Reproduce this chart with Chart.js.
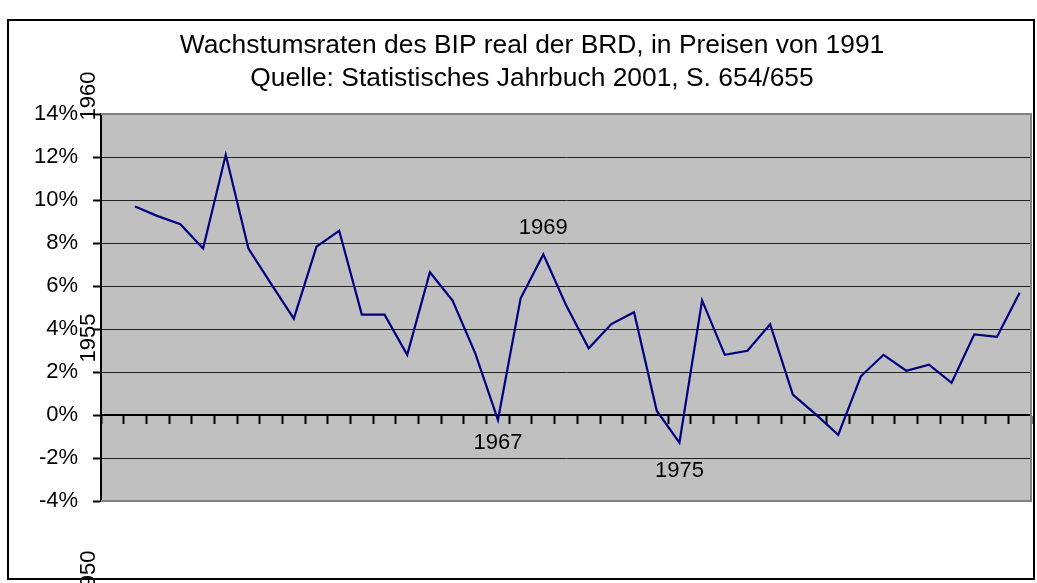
<!DOCTYPE html>
<html><head><meta charset="utf-8">
<script src="https://cdn.jsdelivr.net/npm/chart.js@4.4.1/dist/chart.umd.min.js"></script>
<style>html,body{margin:0;padding:0;background:#fff;}#wrap{width:1037px;height:583px;position:relative;}</style>
</head><body><div id="wrap"><canvas id="c" width="1037" height="583"></canvas></div>
<script>
const years = ['1950','1951','1952','1953','1954','1955','1956','1957','1958','1959','1960','1961','1962','1963','1964','1965','1966','1967','1968','1969','1970','1971','1972','1973','1974','1975','1976','1977','1978','1979','1980','1981','1982','1983','1984','1985','1986','1987','1988','1989','1990'];
const growth = [null, 9.7, 9.25, 8.87, 7.74, 12.1, 7.74, 6.1, 4.48, 7.83, 8.57, 4.67, 4.67, 2.80, 6.64, 5.32, 2.87, -0.23, 5.43, 7.47, 5.12, 3.10, 4.23, 4.78, 0.20, -1.29, 5.33, 2.80, 2.99, 4.22, 0.95, 0.04, -0.92, 1.80, 2.80, 2.06, 2.34, 1.50, 3.75, 3.64, 5.69];
const yMin = -4, yMax = 14, yStep = 2;
const titleLines = ['Wachstumsraten des BIP real der BRD, in Preisen von 1991', 'Quelle: Statistisches Jahrbuch 2001, S. 654/655'];
const markedYears = ['1969', '1967', '1975'];
const sideYears = ['1950', '1955', '1960'];

const FONT = "'Liberation Sans', Arial, sans-serif";

const decor = {
  id: 'decor',
  beforeDraw(chart) {
    const {ctx, chartArea: a} = chart;
    ctx.save();
    ctx.fillStyle = '#fff';
    ctx.fillRect(0, 0, chart.width, chart.height);
    ctx.fillStyle = '#C0C0C0';
    ctx.fillRect(a.left, a.top, a.right - a.left, a.bottom - a.top);
    ctx.restore();
  },
  beforeDatasetsDraw(chart) {
    const {ctx, chartArea: a} = chart;
    ctx.save();
    ctx.strokeStyle = '#808080';
    ctx.lineWidth = 2;
    ctx.beginPath();
    ctx.moveTo(a.left, a.top); ctx.lineTo(a.right, a.top); ctx.lineTo(a.right, a.bottom); ctx.lineTo(a.left, a.bottom);
    ctx.stroke();
    ctx.restore();
  },
  afterDraw(chart) {
    const {ctx} = chart;
    const xs = chart.scales.x, ys = chart.scales.y;
    ctx.save();
    ctx.strokeStyle = '#000';
    ctx.lineWidth = 2;
    ctx.strokeRect(8, 20, 1026, 559);
    ctx.fillStyle = '#000';
    ctx.textAlign = 'center';
    ctx.textBaseline = 'middle';
    ctx.font = '26.4px ' + FONT;
    ctx.fillText(titleLines[0], 532, 46);
    ctx.fillText(titleLines[1], 532, 79);
    ctx.font = '22px ' + FONT;
    const offs = {'1969': -26, '1967': 23, '1975': 28};
    markedYears.forEach(y => {
      const i = years.indexOf(y);
      const px = xs.getPixelForValue(i);
      const py = ys.getPixelForValue(growth[i]);
      ctx.fillText(y, px, py + offs[y]);
    });
    const sidePos = {'1950': 575, '1955': 338, '1960': 96};
    sideYears.forEach(y => {
      ctx.save();
      ctx.translate(89, sidePos[y]);
      ctx.rotate(-Math.PI / 2);
      ctx.fillText(y, 0, 0);
      ctx.restore();
    });
    ctx.restore();
  }
};

new Chart(document.getElementById('c'), {
  type: 'line',
  data: {
    labels: years,
    datasets: [{
      data: growth,
      borderColor: '#000080',
      borderWidth: 2.2,
      pointRadius: 0,
      tension: 0,
      fill: false,
      spanGaps: false
    }]
  },
  options: {
    responsive: false,
    animation: false,
    devicePixelRatio: 1,
    layout: {padding: {left: 0, top: 114, right: 6, bottom: 82}},
    plugins: {legend: {display: false}, title: {display: false}, tooltip: {enabled: false}},
    scales: {
      x: {
        type: 'category',
        offset: true,
        position: {y: 0},
        grid: {display: true, drawOnChartArea: false, drawTicks: true, tickLength: 8, tickWidth: 2, tickColor: '#000', offset: true},
        border: {display: true, color: '#000', width: 2},
        ticks: {display: false, autoSkip: false}
      },
      y: {
        min: yMin, max: yMax,
        afterFit: s => { s.width = 101; },
        grid: {
          color: c => (c.tick && (c.tick.value === yMax || c.tick.value === yMin)) ? '#808080' : '#222',
          lineWidth: 1, drawTicks: true, tickLength: 8, tickWidth: 2, tickColor: '#000'
        },
        border: {display: true, color: '#000', width: 2},
        ticks: {stepSize: yStep, padding: 15, color: '#000', font: {size: 22, family: FONT}, callback: v => v + '%'}
      }
    }
  },
  plugins: [decor]
});
</script></body></html>
